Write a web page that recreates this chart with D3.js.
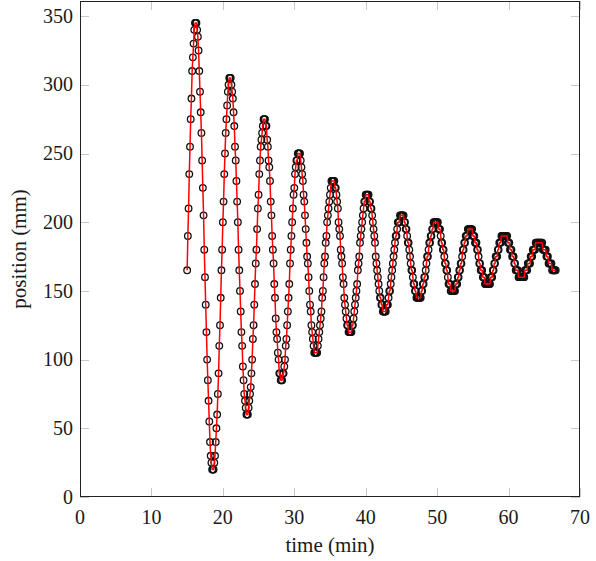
<!DOCTYPE html>
<html>
<head>
<meta charset="utf-8">
<script src="https://cdn.jsdelivr.net/npm/d3@7"></script>
<style>
  body { margin: 0; background: #fff; }
  text { font-family: "Liberation Serif", "DejaVu Serif", serif; fill: #1a1a1a; }
</style>
</head>
<body>
<div id="chart"></div>
<script>
// time of each sample (min)
var times = [
  15.0, 15.1, 15.2, 15.3, 15.4, 15.5, 15.6, 15.7, 15.8, 15.9,
  16.0, 16.1, 16.2, 16.3, 16.4, 16.5, 16.6, 16.7, 16.8, 16.9,
  17.0, 17.1, 17.2, 17.3, 17.4, 17.5, 17.6, 17.7, 17.8, 17.9,
  18.0, 18.1, 18.2, 18.3, 18.4, 18.5, 18.6, 18.7, 18.8, 18.9,
  19.0, 19.1, 19.2, 19.3, 19.4, 19.5, 19.6, 19.7, 19.8, 19.9,
  20.0, 20.1, 20.2, 20.3, 20.4, 20.5, 20.6, 20.7, 20.8, 20.9,
  21.0, 21.1, 21.2, 21.3, 21.4, 21.5, 21.6, 21.7, 21.8, 21.9,
  22.0, 22.1, 22.2, 22.3, 22.4, 22.5, 22.6, 22.7, 22.8, 22.9,
  23.0, 23.1, 23.2, 23.3, 23.4, 23.5, 23.6, 23.7, 23.8, 23.9,
  24.0, 24.1, 24.2, 24.3, 24.4, 24.5, 24.6, 24.7, 24.8, 24.9,
  25.0, 25.1, 25.2, 25.3, 25.4, 25.5, 25.6, 25.7, 25.8, 25.9,
  26.0, 26.1, 26.2, 26.3, 26.4, 26.5, 26.6, 26.7, 26.8, 26.9,
  27.0, 27.1, 27.2, 27.3, 27.4, 27.5, 27.6, 27.7, 27.8, 27.9,
  28.0, 28.1, 28.2, 28.3, 28.4, 28.5, 28.6, 28.7, 28.8, 28.9,
  29.0, 29.1, 29.2, 29.3, 29.4, 29.5, 29.6, 29.7, 29.8, 29.9,
  30.0, 30.1, 30.2, 30.3, 30.4, 30.5, 30.6, 30.7, 30.8, 30.9,
  31.0, 31.1, 31.2, 31.3, 31.4, 31.5, 31.6, 31.7, 31.8, 31.9,
  32.0, 32.1, 32.2, 32.3, 32.4, 32.5, 32.6, 32.7, 32.8, 32.9,
  33.0, 33.1, 33.2, 33.3, 33.4, 33.5, 33.6, 33.7, 33.8, 33.9,
  34.0, 34.1, 34.2, 34.3, 34.4, 34.5, 34.6, 34.7, 34.8, 34.9,
  35.0, 35.1, 35.2, 35.3, 35.4, 35.5, 35.6, 35.7, 35.8, 35.9,
  36.0, 36.1, 36.2, 36.3, 36.4, 36.5, 36.6, 36.7, 36.8, 36.9,
  37.0, 37.1, 37.2, 37.3, 37.4, 37.5, 37.6, 37.7, 37.8, 37.9,
  38.0, 38.1, 38.2, 38.3, 38.4, 38.5, 38.6, 38.7, 38.8, 38.9,
  39.0, 39.1, 39.2, 39.3, 39.4, 39.5, 39.6, 39.7, 39.8, 39.9,
  40.0, 40.1, 40.2, 40.3, 40.4, 40.5, 40.6, 40.7, 40.8, 40.9,
  41.0, 41.1, 41.2, 41.3, 41.4, 41.5, 41.6, 41.7, 41.8, 41.9,
  42.0, 42.1, 42.2, 42.3, 42.4, 42.5, 42.6, 42.7, 42.8, 42.9,
  43.0, 43.1, 43.2, 43.3, 43.4, 43.5, 43.6, 43.7, 43.8, 43.9,
  44.0, 44.1, 44.2, 44.3, 44.4, 44.5, 44.6, 44.7, 44.8, 44.9,
  45.0, 45.1, 45.2, 45.3, 45.4, 45.5, 45.6, 45.7, 45.8, 45.9,
  46.0, 46.1, 46.2, 46.3, 46.4, 46.5, 46.6, 46.7, 46.8, 46.9,
  47.0, 47.1, 47.2, 47.3, 47.4, 47.5, 47.6, 47.7, 47.8, 47.9,
  48.0, 48.1, 48.2, 48.3, 48.4, 48.5, 48.6, 48.7, 48.8, 48.9,
  49.0, 49.1, 49.2, 49.3, 49.4, 49.5, 49.6, 49.7, 49.8, 49.9,
  50.0, 50.1, 50.2, 50.3, 50.4, 50.5, 50.6, 50.7, 50.8, 50.9,
  51.0, 51.1, 51.2, 51.3, 51.4, 51.5, 51.6, 51.7, 51.8, 51.9,
  52.0, 52.1, 52.2, 52.3, 52.4, 52.5, 52.6, 52.7, 52.8, 52.9,
  53.0, 53.1, 53.2, 53.3, 53.4, 53.5, 53.6, 53.7, 53.8, 53.9,
  54.0, 54.1, 54.2, 54.3, 54.4, 54.5, 54.6, 54.7, 54.8, 54.9,
  55.0, 55.1, 55.2, 55.3, 55.4, 55.5, 55.6, 55.7, 55.8, 55.9,
  56.0, 56.1, 56.2, 56.3, 56.4, 56.5, 56.6, 56.7, 56.8, 56.9,
  57.0, 57.1, 57.2, 57.3, 57.4, 57.5, 57.6, 57.7, 57.8, 57.9,
  58.0, 58.1, 58.2, 58.3, 58.4, 58.5, 58.6, 58.7, 58.8, 58.9,
  59.0, 59.1, 59.2, 59.3, 59.4, 59.5, 59.6, 59.7, 59.8, 59.9,
  60.0, 60.1, 60.2, 60.3, 60.4, 60.5, 60.6, 60.7, 60.8, 60.9,
  61.0, 61.1, 61.2, 61.3, 61.4, 61.5, 61.6, 61.7, 61.8, 61.9,
  62.0, 62.1, 62.2, 62.3, 62.4, 62.5, 62.6, 62.7, 62.8, 62.9,
  63.0, 63.1, 63.2, 63.3, 63.4, 63.5, 63.6, 63.7, 63.8, 63.9,
  64.0, 64.1, 64.2, 64.3, 64.4, 64.5, 64.6, 64.7, 64.8, 64.9,
  65.0, 65.1, 65.2, 65.3, 65.4, 65.5, 65.6, 65.7, 65.8, 65.9,
  66.0, 66.1, 66.2, 66.3, 66.4, 66.5, 66.6
];

// measured position (mm), one per sample
var positions = [
  165, 190, 210, 235, 255, 275, 290, 310, 320, 330, 340, 345, 345,
  345, 340, 335, 325, 310, 295, 280, 265, 245, 225, 205, 180, 160, 140, 120, 100, 85, 70, 55, 40, 30, 25, 20, 20,
  20, 25, 30, 40, 50, 60, 75, 90, 110, 125, 145, 165, 180, 200, 215, 235, 250, 265, 275, 285, 295, 300, 305, 305,
  305, 300, 295, 290, 280, 270, 255, 245, 230, 215, 200, 180, 165, 150, 135, 120, 110, 95, 85, 75, 70, 65, 60, 60,
  60, 65, 70, 75, 80, 90, 100, 115, 125, 140, 155, 170, 180, 195, 210, 220, 235, 245, 255, 260, 265, 270, 275, 275,
  275, 270, 270, 260, 255, 245, 240, 230, 215, 205, 190, 180, 170, 155, 145, 130, 120, 115, 105, 100, 90, 90, 85, 85,
  85, 90, 90, 95, 100, 110, 115, 125, 135, 145, 155, 170, 180, 190, 200, 210, 220, 225, 235, 240, 245, 245, 250, 250,
  250, 250, 245, 240, 235, 230, 220, 215, 205, 195, 185, 175, 170, 160, 150, 140, 135, 125, 120, 115, 110, 105, 105, 105,
  105, 105, 110, 115, 120, 125, 130, 135, 145, 150, 160, 170, 175, 185, 190, 200, 205, 210, 215, 220, 225, 230, 230, 230,
  230, 230, 225, 225, 220, 215, 210, 200, 195, 190, 180, 175, 170, 160, 155, 145, 140, 135, 130, 125, 125, 120, 120, 120,
  120, 120, 125, 125, 130, 135, 140, 145, 150, 155, 165, 170, 175, 185, 190, 195, 200, 205, 210, 215, 215, 220, 220, 220,
  220, 220, 215, 215, 210, 210, 205, 200, 195, 190, 185, 175, 170, 165, 160, 155, 150, 145, 145, 140, 140, 135, 135, 135,
  135, 135, 140, 140, 140, 145, 150, 150, 155, 160, 165, 170, 175, 180, 185, 190, 190, 195, 200, 200, 200, 205, 205, 205,
  205, 205, 205, 200, 200, 195, 195, 190, 185, 185, 180, 175, 170, 165, 165, 160, 155, 155, 150, 150, 145, 145, 145, 145,
  145, 145, 145, 150, 150, 155, 155, 160, 160, 165, 170, 175, 175, 180, 185, 185, 190, 190, 195, 195, 200, 200, 200, 200,
  200, 200, 200, 195, 195, 195, 190, 185, 185, 180, 180, 175, 170, 170, 165, 165, 160, 155, 155, 155, 150, 150, 150, 150,
  150, 150, 150, 155, 155, 155, 160, 160, 165, 165, 170, 170, 175, 180, 180, 185, 185, 190, 190, 190, 195, 195, 195, 195,
  195, 195, 195, 190, 190, 190, 185, 185, 185, 180, 180, 175, 170, 170, 165, 165, 165, 160, 160, 160, 155, 155, 155, 155,
  155, 155, 155, 155, 160, 160, 160, 165, 165, 170, 170, 175, 175, 175, 180, 180, 185, 185, 185, 190, 190, 190, 190, 190,
  190, 190, 190, 190, 185, 185, 185, 180, 180, 180, 175, 175, 175, 170, 170, 165, 165, 165, 165, 160, 160, 160, 160, 160,
  160, 160, 160, 160, 165, 165, 165, 165, 170, 170, 170, 170, 175, 175, 175, 180, 180, 180, 180, 185, 185, 185, 185, 185,
  185, 185, 185, 185, 185, 180, 180, 180, 180, 180, 175, 175, 175, 170, 170, 170, 170, 170, 165, 165, 165, 165, 165, 165
];

var xTicks = [0, 10, 20, 30, 40, 50, 60, 70];
var yTicks = [0, 50, 100, 150, 200, 250, 300, 350];

var W = 596, H = 561;
var plotLeft = 80, plotRight = 580, plotTop = 1, plotBottom = 497;
var tickLen = 9;

var data = times.map(function (t, i) {
  return { t: t, p: positions[i] };
});

var svg = d3.select('#chart')
  .append('svg')
  .attr('width', W)
  .attr('height', H);

var x = d3.scaleLinear().domain([0, 70]).range([plotLeft, plotRight]);
var y = d3.scaleLinear().domain([0, 361]).range([plotBottom, plotTop]);

// inner gray ticks on all four sides
var ticks = svg.append('g')
  .attr('stroke', '#c8c8c8')
  .attr('stroke-width', 1);
xTicks.forEach(function (d) {
  var px = Math.round(x(d)) + 0.5;
  ticks.append('line').attr('x1', px).attr('x2', px)
    .attr('y1', plotBottom).attr('y2', plotBottom - tickLen);
  ticks.append('line').attr('x1', px).attr('x2', px)
    .attr('y1', plotTop).attr('y2', plotTop + tickLen);
});
yTicks.forEach(function (d) {
  var py = Math.round(y(d)) + 0.5;
  ticks.append('line').attr('y1', py).attr('y2', py)
    .attr('x1', plotLeft).attr('x2', plotLeft + tickLen);
  ticks.append('line').attr('y1', py).attr('y2', py)
    .attr('x1', plotRight).attr('x2', plotRight - tickLen);
});

// tick labels
svg.append('g').selectAll('text')
  .data(xTicks)
  .enter()
  .append('text')
  .attr('x', function (d) { return x(d); })
  .attr('y', 524)
  .attr('text-anchor', 'middle')
  .attr('font-size', 20)
  .text(function (d) { return d; });

svg.append('g').selectAll('text')
  .data(yTicks)
  .enter()
  .append('text')
  .attr('x', 73)
  .attr('y', function (d) { return y(d); })
  .attr('dy', '0.33em')
  .attr('text-anchor', 'end')
  .attr('font-size', 20)
  .text(function (d) { return d; });

// data: circles, then the red line over them
var line = d3.line()
  .x(function (d) { return x(d.t); })
  .y(function (d) { return y(d.p); });

svg.append('g').selectAll('circle')
  .data(data)
  .enter()
  .append('circle')
  .attr('cx', function (d) { return x(d.t); })
  .attr('cy', function (d) { return y(d.p); })
  .attr('r', 3.3)
  .attr('fill', 'none')
  .attr('stroke', '#111')
  .attr('stroke-width', 1.3);

svg.append('path')
  .datum(data)
  .attr('d', line)
  .attr('fill', 'none')
  .attr('stroke', '#ff0000')
  .attr('stroke-width', 1.5)
  .attr('stroke-linejoin', 'round');

// frame
svg.append('rect')
  .attr('x', plotLeft + 0.5)
  .attr('y', plotTop + 0.5)
  .attr('width', plotRight - plotLeft - 1)
  .attr('height', plotBottom - plotTop - 1)
  .attr('fill', 'none')
  .attr('stroke', '#222')
  .attr('stroke-width', 1);

// axis titles
svg.append('text')
  .attr('x', (plotLeft + plotRight) / 2)
  .attr('y', 552)
  .attr('text-anchor', 'middle')
  .attr('font-size', 21)
  .text('time (min)');

svg.append('text')
  .attr('transform', 'translate(26,' + ((plotTop + plotBottom) / 2) + ') rotate(-90)')
  .attr('text-anchor', 'middle')
  .attr('font-size', 21)
  .text('position (mm)');
</script>
</body>
</html>
